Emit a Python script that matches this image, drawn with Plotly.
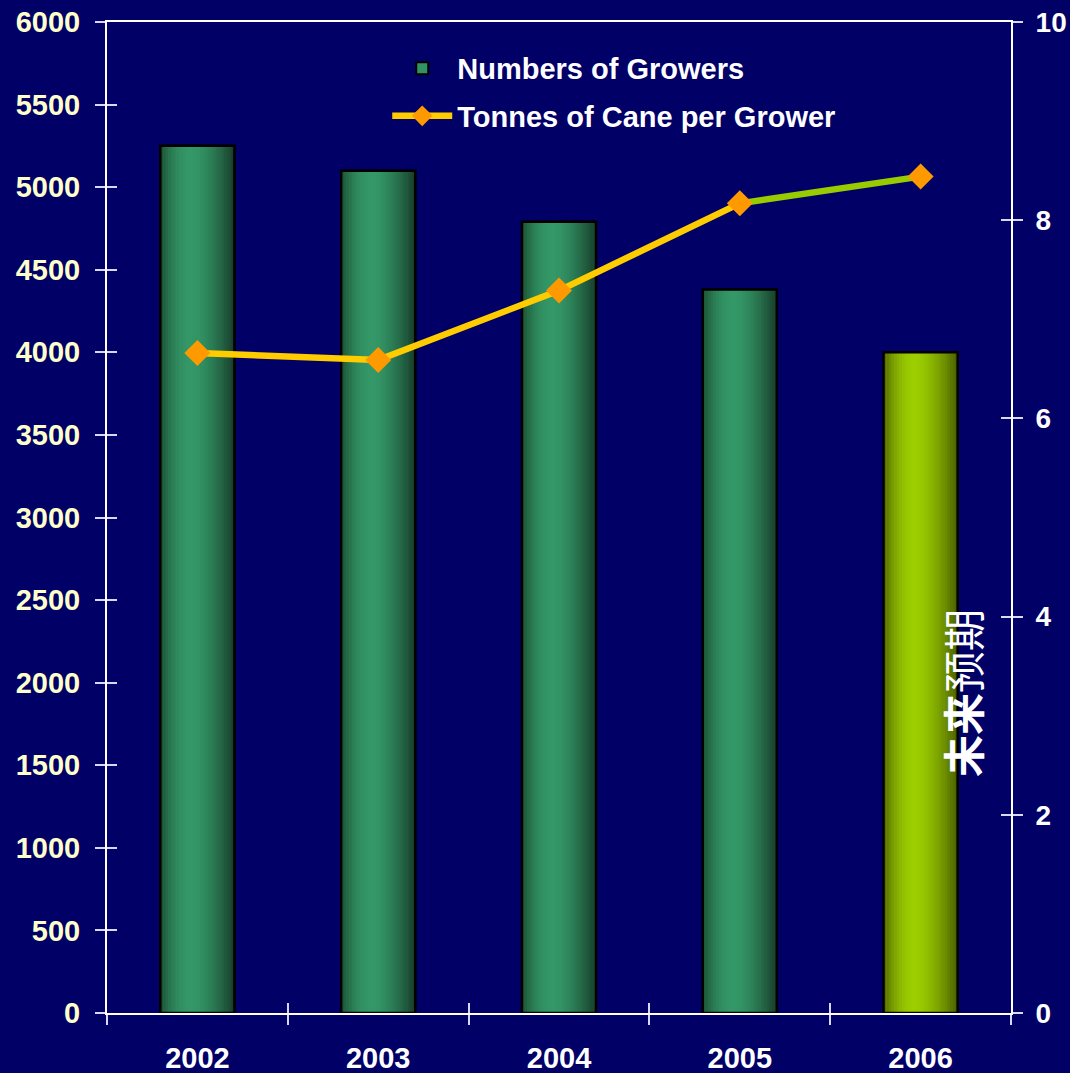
import plotly.graph_objects as go

# ---- data ----
years = ["2002", "2003", "2004", "2005", "2006"]
growers = [5250, 5100, 4790, 4380, 4000]
tonnes = [6.66, 6.59, 7.29, 8.17, 8.44]
left_ticks = list(range(0, 6001, 500))
right_ticks = [0, 2, 4, 6, 8, 10]
bar_name = "Numbers of Growers"
line_name = "Tonnes of Cane per Grower"
note_text = "<b>未来</b>预期"

FONT = "Liberation Sans, Arial, sans-serif"
BG = "#000066"
BAR_W = 0.41
N_STRIPES = 28

# cylinder-like shading profiles (left edge, highlight, right edge)
green_prof = [(28, 80, 52), (52, 152, 104), (22, 58, 40)]
yellow_prof = [(82, 102, 0), (156, 206, 0), (72, 92, 0)]
PEAK = 0.42


def shade(prof, t):
    a, p, b = prof
    if t <= PEAK:
        u = t / PEAK
        u = 1 - (1 - u) ** 2
        c = [a[i] + (p[i] - a[i]) * u for i in range(3)]
    else:
        u = (t - PEAK) / (1 - PEAK)
        u = u ** 1.6
        c = [p[i] + (b[i] - p[i]) * u for i in range(3)]
    return "rgb(%d,%d,%d)" % tuple(int(round(v)) for v in c)


def bar_colors(t):
    return [shade(yellow_prof if y == years[-1] else green_prof, t) for y in years]


fig = go.Figure()

# base bar (carries legend entry)
fig.add_trace(go.Bar(
    x=years, y=growers, name=bar_name, width=BAR_W,
    marker=dict(color=bar_colors(0.3), line=dict(color="black", width=2)),
    legendgroup="a", showlegend=True, hoverinfo="skip"))

# gradient stripes
sw = BAR_W / N_STRIPES
for i in range(N_STRIPES):
    t = (i + 0.5) / N_STRIPES
    fig.add_trace(go.Bar(
        x=years, y=growers, width=sw * 1.15, offset=-BAR_W / 2 + i * sw,
        marker=dict(color=bar_colors(t), line=dict(width=0)),
        showlegend=False, hoverinfo="skip"))

# outline on top
fig.add_trace(go.Bar(
    x=years, y=growers, width=BAR_W,
    marker=dict(color="rgba(0,0,0,0)", line=dict(color="black", width=2.5)),
    showlegend=False, hoverinfo="skip"))

# line: last segment green
fig.add_trace(go.Scatter(
    x=years[-2:], y=tonnes[-2:], yaxis="y2", mode="lines",
    line=dict(color="#99CC00", width=6.5), showlegend=False, hoverinfo="skip"))
fig.add_trace(go.Scatter(
    x=years[:-1], y=tonnes[:-1], yaxis="y2", mode="lines+markers", name=line_name,
    line=dict(color="#FFCC00", width=6.5),
    marker=dict(symbol="diamond", size=20, color="#FF9900"),
    legendgroup="b", showlegend=True))
fig.add_trace(go.Scatter(
    x=years[-1:], y=tonnes[-1:], yaxis="y2", mode="markers",
    marker=dict(symbol="diamond", size=20, color="#FF9900"),
    showlegend=False))

# empty traces so the tick-only overlay axes get drawn
fig.add_trace(go.Scatter(x=[], y=[], xaxis="x3", yaxis="y3", showlegend=False))
fig.add_trace(go.Scatter(x=[], y=[], xaxis="x3", yaxis="y4", showlegend=False))

tick_col = "#D8D8F0"

fig.update_layout(
    width=1070, height=1073,
    paper_bgcolor=BG, plot_bgcolor=BG,
    margin=dict(l=107, r=59, t=22, b=60, autoexpand=False),
    barmode="overlay",
    font=dict(family=FONT, color="white"),
    xaxis=dict(
        type="category", categoryarray=years, range=[-0.5, 4.5],
        showline=True, linecolor="white", linewidth=2, mirror=True,
        showgrid=False, zeroline=False, automargin=False,
        tickson="boundaries", ticks="outside", ticklen=10, tickwidth=1.5,
        tickcolor=tick_col,
        tickfont=dict(family=FONT, size=29, color="white", weight="bold"),
        ticklabelstandoff=18),
    yaxis=dict(
        range=[0, 6000], tickvals=left_ticks,
        showline=True, linecolor="white", linewidth=2,
        showgrid=False, zeroline=False, automargin=False,
        ticks="outside", ticklen=10, tickwidth=1.5, tickcolor=tick_col,
        tickfont=dict(family=FONT, size=29, color="#FFFFCC", weight="bold"),
        ticklabelstandoff=9),
    yaxis2=dict(
        overlaying="y", side="right", range=[0, 10], tickvals=right_ticks,
        showline=True, linecolor="white", linewidth=2,
        showgrid=False, zeroline=False, automargin=False,
        ticks="outside", ticklen=10, tickwidth=1.5, tickcolor=tick_col,
        tickfont=dict(family=FONT, size=28, color="white", weight="bold"),
        ticklabelstandoff=7),
    # inner halves of the crossing tick marks
    xaxis3=dict(
        overlaying="x", anchor="y3", range=[-0.5, 4.5], automargin=False,
        tickvals=[i - 0.5 for i in range(len(years) + 1)],
        ticks="inside", ticklen=10, tickwidth=1.5, tickcolor=tick_col,
        showticklabels=False, showgrid=False, zeroline=False, showline=False),
    yaxis3=dict(
        overlaying="y", side="left", anchor="x3", range=[0, 6000], tickvals=left_ticks,
        automargin=False,
        ticks="inside", ticklen=10, tickwidth=1.5, tickcolor=tick_col,
        showticklabels=False, showgrid=False, zeroline=False, showline=False),
    yaxis4=dict(
        overlaying="y", side="right", anchor="x3", range=[0, 10], tickvals=right_ticks,
        automargin=False,
        ticks="inside", ticklen=10, tickwidth=1.5, tickcolor=tick_col,
        showticklabels=False, showgrid=False, zeroline=False, showline=False),
    legend=dict(
        x=0.31, y=0.979, xanchor="left", yanchor="top",
        bgcolor="rgba(0,0,0,0)", traceorder="grouped", tracegroupgap=7,
        itemwidth=60,
        font=dict(family=FONT, size=29, color="white", weight="bold")),
    annotations=[dict(
        text=note_text, textangle=-90, showarrow=False,
        xref="paper", yref="paper", x=0.946, y=0.323,
        xanchor="center", yanchor="middle",
        font=dict(family="Noto Sans CJK SC", size=42, color="white"))],
)

fig.write_html(
    "out.html",
    config={"displayModeBar": False},
    post_script="document.body.style.margin='0';document.body.style.overflow='hidden';",
)
